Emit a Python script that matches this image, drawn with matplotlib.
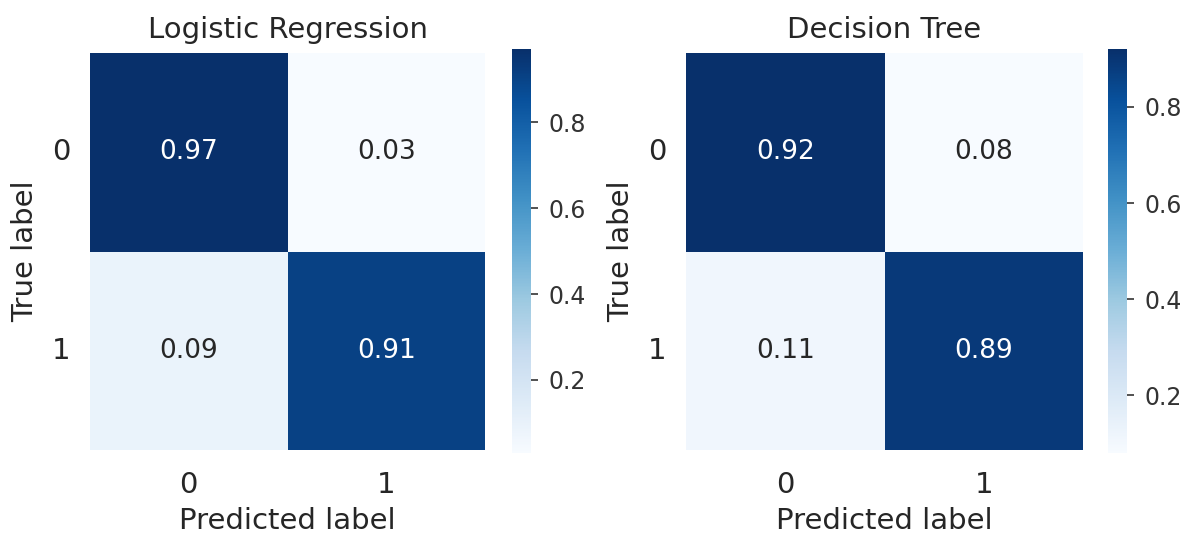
import numpy as np
import matplotlib
matplotlib.use("Agg")
import matplotlib.pyplot as plt
from matplotlib.ticker import MultipleLocator
import seaborn as sns

# normalised confusion matrices
labels = ["0", "1"]
lr_cm = [[0.97, 0.03],
         [0.09, 0.91]]
dt_cm = [[0.92, 0.08],
         [0.11, 0.89]]
titles = ["Logistic Regression", "Decision Tree"]

sns.set_style("white")
plt.rcParams['font.family'] = ['DejaVu Sans']

fig = plt.figure(figsize=(11.92, 5.37), dpi=100)

# axes boxes in figure fractions (heatmap, colorbar)
boxes = [
    ([0.0755, 0.162, 0.3314, 0.739], [0.4295, 0.1564, 0.0159, 0.752]),
    ([0.5755, 0.162, 0.3331, 0.739], [0.9295, 0.1564, 0.0159, 0.752]),
]

for cm, title, (hbox, cbox) in zip([lr_cm, dt_cm], titles, boxes):
    ax = fig.add_axes(hbox)
    cax = fig.add_axes(cbox)
    sns.heatmap(np.array(cm), annot=True, fmt=".2f", cmap="Blues",
                ax=ax, cbar_ax=cax, xticklabels=labels, yticklabels=labels,
                annot_kws={"fontsize": 19})
    ax.set_title(title, fontsize=21, color="#262626", pad=11)
    ax.set_xlabel("Predicted label", fontsize=21, color="#262626", labelpad=6)
    ax.set_ylabel("True label", fontsize=21, color="#262626", labelpad=9)
    ax.tick_params(axis="both", length=0, labelsize=21, colors="#262626")
    ax.tick_params(axis="x", pad=15)
    ax.tick_params(axis="y", pad=14)
    ax.set_yticklabels(labels, rotation=0)
    cax.yaxis.set_major_locator(MultipleLocator(0.2))
    cax.tick_params(axis="y", length=5, width=1.2, labelsize=17,
                    colors="#333333", pad=8, right=True)

fig.savefig("out.png", dpi=100)
